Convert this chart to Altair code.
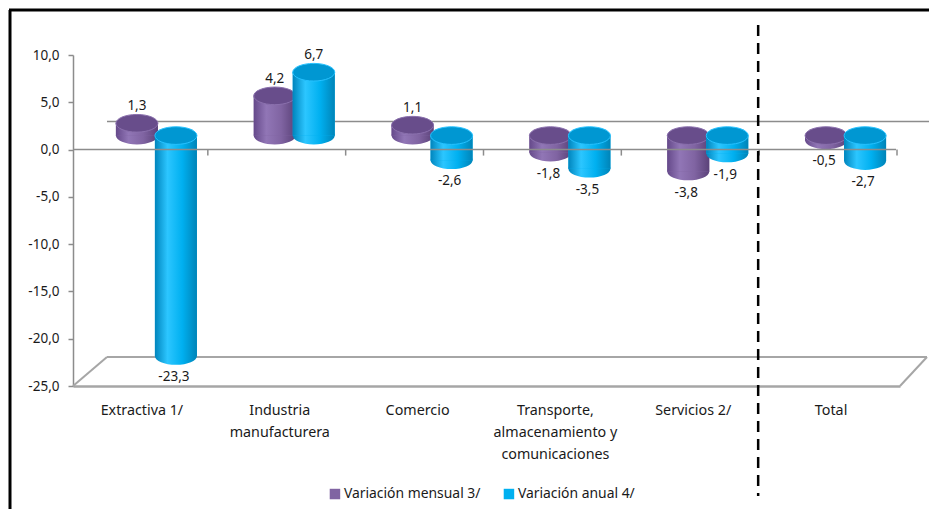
import altair as alt
import pandas as pd

categories = [
    "Extractiva 1/",
    "Industria\nmanufacturera",
    "Comercio",
    "Transporte,\nalmacenamiento y\ncomunicaciones",
    "Servicios 2/",
    "Total",
]
series = ["Variación mensual 3/", "Variación anual 4/"]
mensual = [1.3, 4.2, 1.1, -1.8, -3.8, -0.5]
anual = [-23.3, 6.7, -2.6, -3.5, -1.9, -2.7]
y_ticks = [-25, -20, -15, -10, -5, 0, 5, 10]
series_colors = ["#8064A2", "#00B0F0"]

rows = []
for s, vals in zip(series, [mensual, anual]):
    for c, v in zip(categories, vals):
        rows.append({
            "cat": c, "serie": s, "value": v,
            "top": max(v, 0.0), "bot": min(v, 0.0),
            "label": f"{v:.1f}".replace(".", ","),
        })
df = pd.DataFrame(rows)
one = pd.DataFrame({"k": [0]})

W, H = 827, 331
FONT = "Noto Sans"
BAR_W = 42
DY = -14  # depth shift of the cylinders
K = 0.42
ELL = (f"M-1,0 C-1,{-0.552*K:.3f} -0.552,{-K} 0,{-K} C0.552,{-K} 1,{-0.552*K:.3f} 1,0 "
       f"C1,{0.552*K:.3f} 0.552,{K} 0,{K} C-0.552,{K} -1,{0.552*K:.3f} -1,0 Z")

x_axis = alt.Axis(labelExpr="split(datum.label, '\\n')", ticks=False, domainColor="#a6a6a6",
                  domainWidth=2.5, labelPadding=17, labelFontSize=14.3, labelLineHeight=22,
                  labelAngle=0, labelColor="#1a1a1a", labelFont=FONT, grid=False, labelLimit=0)
y_axis = alt.Axis(values=y_ticks,
                  labelExpr="replace(replace(format(datum.value, '.1f'), '.', ','), '\u2212', '-')",
                  domainColor="#8c8c8c", domainWidth=1.5, tickColor="#8c8c8c", tickSize=5,
                  tickWidth=1.5, labelFontSize=13.5, labelColor="#1a1a1a", labelFont=FONT,
                  labelPadding=9, grid=False)
xs = alt.Scale(domain=categories, paddingInner=0, paddingOuter=0)
ys = alt.Scale(domain=[-25, 10], nice=False, zero=False)


def X(**kw):
    return alt.X("cat:N", sort=categories, scale=xs, axis=x_axis, title=None, **kw)


def Y(field):
    return alt.Y(f"{field}:Q", scale=ys, axis=y_axis, title=None)


def Y0(v):
    return alt.YDatum(v, scale=ys, axis=y_axis, title=None)


def grad(stops):
    return alt.LinearGradient(
        gradient="linear", x1=0, x2=1, y1=0, y2=0,
        stops=[alt.GradientStop(color=c, offset=o) for o, c in stops])


body_grad = [
    grad([(0, "#65498a"), (0.3, "#9176b6"), (0.65, "#8064a2"), (1, "#5b4279")]),
    grad([(0, "#0085bd"), (0.3, "#2cc6ff"), (0.65, "#00b0f0"), (1, "#0084b8")]),
]
cap_fill = ["#684d8b", "#0097d2"]
cap_stroke = ["#8a70ad", "#27c2ff"]
x_off = [-5, 34]

base = alt.Chart(df)
layers = []

# frame lines
layers.append(alt.Chart(one).mark_rule(color="#000000", strokeWidth=3).encode(
    x=alt.value(-63), y=alt.value(-45), y2=alt.value(H + 123)))
layers.append(alt.Chart(one).mark_rule(color="#000000", strokeWidth=3).encode(
    x=alt.value(-64), x2=alt.value(W + 29), y=alt.value(-45)))

# back wall zero line and floor
layers.append(alt.Chart(one).mark_rule(color="#8c8c8c", strokeWidth=1.5, yOffset=-28).encode(
    x=alt.value(34), x2=alt.value(W + 29), y=Y0(0)))
layers.append(alt.Chart(one).mark_rule(color="#a6a6a6", strokeWidth=2, yOffset=-29).encode(
    x=alt.value(34), x2=alt.value(W + 27), y=Y0(-25)))
layers.append(alt.Chart(one).mark_rule(color="#a6a6a6", strokeWidth=2, y2Offset=-29).encode(
    x=alt.value(0), x2=alt.value(34), y=Y0(-25), y2=alt.Y2Datum(-25)))
layers.append(alt.Chart(one).mark_rule(color="#a6a6a6", strokeWidth=2, y2Offset=-29).encode(
    x=alt.value(W), x2=alt.value(W + 27), y=Y0(-25), y2=alt.Y2Datum(-25)))

# cylinders
for i, s in enumerate(series):
    f = base.transform_filter(alt.datum.serie == s)
    layers.append(f.mark_point(shape=ELL, size=BAR_W ** 2, filled=True, fill=body_grad[i],
                               opacity=1, strokeWidth=0, xOffset=x_off[i], yOffset=DY).encode(
        x=X(), y=Y("bot")))
    layers.append(f.mark_bar(width=BAR_W, xOffset=x_off[i], yOffset=DY, y2Offset=DY).encode(
        x=X(), y=Y("value"), y2=alt.Y2Datum(0),
        color=alt.Color("serie:N", scale=alt.Scale(domain=series, range=series_colors),
                        title=None)))
    layers.append(f.mark_bar(width=BAR_W, xOffset=x_off[i], yOffset=DY, y2Offset=DY,
                             fill=body_grad[i]).encode(
        x=X(), y=Y("value"), y2=alt.Y2Datum(0)))
    layers.append(f.mark_point(shape=ELL, size=BAR_W ** 2, filled=True, fill=cap_fill[i],
                               stroke=cap_stroke[i], strokeWidth=1, opacity=1,
                               xOffset=x_off[i], yOffset=DY).encode(
        x=X(), y=Y("top")))

# front zero line with ticks at category boundaries
layers.append(alt.Chart(one).mark_rule(color="#8c8c8c", strokeWidth=1.5).encode(
    x=alt.value(0), x2=alt.value(W - 4), y=Y0(0)))
layers.append(base.transform_filter(alt.datum.serie == series[0]).mark_rule(
    color="#8c8c8c", strokeWidth=1.5, y2Offset=6, xOffset=-3).encode(
    x=X(bandPosition=1), y=Y0(0), y2=alt.Y2Datum(0)))

# labels
for i, s in enumerate(series):
    f = base.transform_filter(alt.datum.serie == s)
    layers.append(f.transform_filter(alt.datum.value > 0).mark_text(
        baseline="alphabetic", dy=-13, xOffset=x_off[i], yOffset=DY, fontSize=13.5, font=FONT,
        color="#1a1a1a").encode(x=X(), y=Y("top"), text="label:N"))
    layers.append(f.transform_filter(alt.datum.value < 0).mark_text(
        baseline="top", dy=14, xOffset=x_off[i] - 2, yOffset=DY, fontSize=13.5, font=FONT,
        color="#1a1a1a").encode(x=X(), y=Y("bot"), text="label:N"))

# dashed separator before "Total"
layers.append(alt.Chart(one).mark_rule(color="#000000", strokeWidth=2.5, strokeDash=[11, 7],
                                       xOffset=-4).encode(
    x=alt.XDatum("Total", type="nominal", bandPosition=0, scale=xs, axis=x_axis, title=None),
    y=alt.value(-30), y2=alt.value(H + 110)))

chart = alt.layer(*layers).properties(
    width=W, height=H,
    autosize=alt.AutoSizeParams(type="none"),
    padding={"left": 73, "top": 55, "right": 29, "bottom": 123},
    background="white",
).configure_view(stroke="transparent").configure_legend(
    orient="none", legendX=255, legendY=432, direction="horizontal",
    symbolType="square", symbolSize=110, symbolStrokeWidth=0, labelFontSize=13.9, labelFont=FONT,
    labelColor="#1a1a1a", labelOffset=2, columnPadding=21, labelLimit=0, padding=0,
)

chart.save("out.html", embed_options={"renderer": "svg", "actions": False})
